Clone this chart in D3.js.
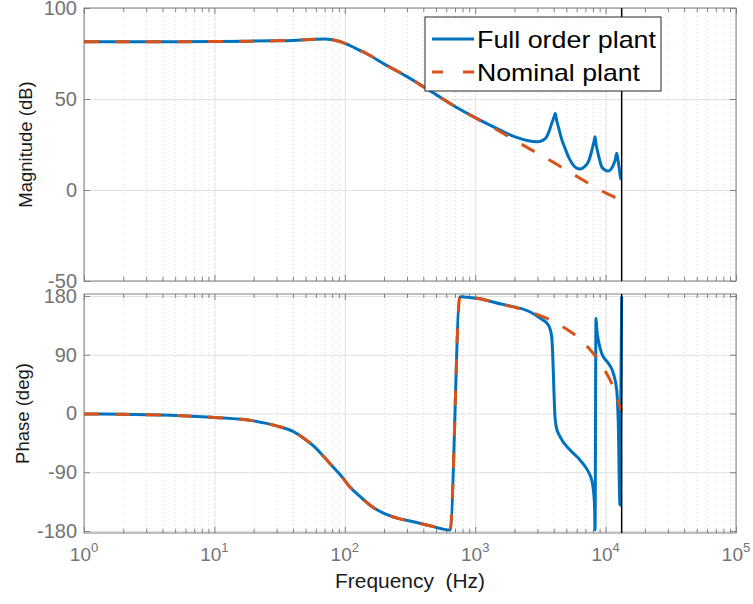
<!DOCTYPE html>
<html lang="en">
<head>
<meta charset="utf-8">
<title>Bode plot</title>
<style>
  body { margin: 0; background: #fff; }
  svg { font-family: "Liberation Sans", Arial, sans-serif; }
  .grid line { stroke: #e0e0e0; stroke-width: 1px; }
  .grid.minor line { stroke: #d6d6d6; stroke-dasharray: 1 3; }
  .grid path { display: none; }
  .ticks path { display: none; }
  .ticks line { stroke: #808080; }
  .ticks text { fill: #737373; font-size: 20px; }
  .frame { fill: none; stroke: #808080; stroke-width: 1px; }
  .label { fill: #1a1a1a; font-size: 18.5px; }
  .full { fill: none; stroke: #0072BD; stroke-width: 3px; }
  .nominal { fill: none; stroke: #D95319; stroke-width: 3px; stroke-dasharray: 15 16; }
</style>
</head>
<body>
<script src="https://d3js.org/d3.v7.min.js"></script>
<script>
  // sampling limit shown as the black vertical line
  const nyquist = 13280;

  // magnitude (dB), nominal plant
  const nomMagFreq = [1, 2, 5, 10, 20, 30, 40, 50, 60, 70, 80, 90, 100, 120, 150, 200, 300, 500, 700,
    1000, 1500, 2000, 3000, 4000, 5000, 7000, 9000, 11000, 13280];
  const nomMagDb = [81.5, 81.5, 81.5, 81.6, 81.8, 82.0, 82.2, 82.5, 82.8, 82.9, 82.5, 81.7, 80.6, 78.0, 74.6, 69.3, 62.3, 52.4, 45.9,
    39.7, 32.7, 27.4, 20.2, 15.1, 10.9, 4.7, 0.1, -3.0, -6.0];

  // magnitude (dB), full order plant
  const fullMagFreq = [1, 2, 5, 10, 20, 30, 40, 50, 60, 70, 80, 90, 100, 120, 150, 200, 300, 500, 700,
    1000, 1500, 2000, 2500, 2966, 3300, 3535, 3700, 3860, 4000, 4113, 4220, 4338, 4600, 4886, 5250, 5654, 6000, 6364,
    6900, 7370, 7700, 7970, 8150, 8300, 8450, 8630, 9000, 9330, 10000, 10490, 11000, 11460, 11850, 12170, 12350,
    12510, 12800, 13060, 13280];
  const fullMagDb = [81.5, 81.5, 81.5, 81.6, 81.8, 82.0, 82.2, 82.5, 82.8, 82.9, 82.5, 81.7, 80.6, 78.0, 74.6, 69.3, 62.3, 52.4, 45.9,
    39.8, 33.5, 29.3, 27.2, 26.5, 27.3, 29.3, 32.5, 36.6, 39.5, 42.1, 38.0, 34.8, 28.0, 22.9, 17.5, 13.7, 12.0, 11.5,
    12.8, 15.5, 19.5, 23.8, 26.8, 29.3, 25.2, 22.0, 16.5, 12.8, 10.8, 10.4, 11.5, 13.7, 16.5, 20.2, 17.8,
    15.5, 10.5, 6.4, 6.0];

  // phase (deg), nominal plant
  const nomPhFreq = [1, 2, 5, 10, 20, 30, 40, 48.7, 60, 69.2, 80, 93, 110, 132, 160, 200, 260, 335, 450, 641,
    764, 1026, 1570, 2666, 4470, 7080, 9720, 11460, 12170, 12880, 13280];
  const nomPhDeg = [-0.6, -1.2, -3.0, -6.0, -11.3, -19.0, -27.5, -38.3, -53.0, -66.4, -80.5, -94.5, -113, -127.7, -142, -153.1, -161, -165.7, -172, -178.4,
    178.9, 176.4, 167.7, 155, 135.5, 104.9, 68.1, 40, 25, 10.4, 4];

  // phase (deg), full order plant
  const fullPhFreq = [1, 2, 5, 10, 20, 30, 40, 48.7, 60, 69.2, 80, 93, 110, 132, 160, 200, 260, 335, 450, 641,
    764, 1026, 1570, 2666, 3140, 3640, 3860, 3920, 3975, 4030, 4090, 4200, 4470, 5333, 6364, 7370, 7820, 8000, 8150,
    8250, 8300, 8440, 8600, 8790, 9330, 10490, 11460, 12170, 12510, 12880, 13280];
  const fullPhDeg = [-0.6, -1.2, -3.0, -6.0, -11.3, -19.0, -27.5, -38.3, -53.0, -66.4, -80.5, -94.5, -113, -127.7, -142, -153.1, -161, -165.7, -172, -178.4,
    178.9, 176.4, 167.7, 155, 146, 135.5, 117.6, 95, 61.6, 25, -4.9, -22, -35.5, -55.9, -71.2, -89.1, -101.8, -112, -127.4,
    -150, -178, 146, 125, 112.6, 92.2, 76.9, 61.6, 36, -15, -140, 179];

  const decades = [1, 10, 100, 1000, 10000, 100000];
  const magTicks = [-50, 0, 50, 100];
  const phaseTicks = [-180, -90, 0, 90, 180];

  const minors = [];
  decades.slice(0, -1).forEach(function(d) {
    for (let k = 2; k <= 9; k++) minors.push(d * k);
  });

  const width = 753, height = 604;
  const left = 84, right = 736;

  const svg = d3.select("body").append("svg")
    .attr("width", width)
    .attr("height", height);

  const x = d3.scaleLog().domain([1, 1e5]).range([left, right]);
  const yMag = d3.scaleLinear().domain([-50, 100]).range([281, 8]);
  const yPh = d3.scaleLinear().domain([-183, 183]).range([533, 294]);

  function zip(f, v) {
    return f.map(function(d, i) { return {f: d, v: v[i]}; });
  }

  function panel(y, yTicks) {
    const top = y.range()[1], bottom = y.range()[0];
    const h = bottom - top, w = right - left;
    const g = svg.append("g");

    // grid
    g.append("g").attr("class", "grid minor")
      .attr("transform", "translate(0," + bottom + ")")
      .call(d3.axisBottom(x).tickValues(minors).tickSize(-h).tickFormat(""));
    g.append("g").attr("class", "grid")
      .attr("transform", "translate(0," + bottom + ")")
      .call(d3.axisBottom(x).tickValues(decades).tickSize(-h).tickFormat(""));
    g.append("g").attr("class", "grid")
      .attr("transform", "translate(" + left + ",0)")
      .call(d3.axisLeft(y).tickValues(yTicks).tickSize(-w).tickFormat(""));

    // inward ticks on all four sides
    [[d3.axisBottom, bottom], [d3.axisTop, top]].forEach(function(a) {
      g.append("g").attr("class", "ticks")
        .attr("transform", "translate(0," + a[1] + ")")
        .call(a[0](x).tickValues(minors).tickSize(-4).tickFormat(""));
      g.append("g").attr("class", "ticks")
        .attr("transform", "translate(0," + a[1] + ")")
        .call(a[0](x).tickValues(decades).tickSize(-6).tickFormat(""));
    });
    g.append("g").attr("class", "ticks")
      .attr("transform", "translate(" + left + ",0)")
      .call(d3.axisLeft(y).tickValues(yTicks).tickSize(-6).tickPadding(7).tickFormat(String));
    g.append("g").attr("class", "ticks")
      .attr("transform", "translate(" + right + ",0)")
      .call(d3.axisRight(y).tickValues(yTicks).tickSize(-6).tickFormat(""));

    g.append("rect").attr("class", "frame")
      .attr("x", left).attr("y", top).attr("width", w).attr("height", h);

    return g;
  }

  const gMag = panel(yMag, magTicks);
  const gPh = panel(yPh, phaseTicks);

  const lineMag = d3.line().x(function(d) { return x(d.f); }).y(function(d) { return yMag(d.v); })
    .curve(d3.curveMonotoneX);
  const linePh = d3.line().x(function(d) { return x(d.f); }).y(function(d) { return yPh(d.v); })
    .curve(d3.curveMonotoneX);

  gMag.append("path").attr("class", "full").attr("d", lineMag(zip(fullMagFreq, fullMagDb)));
  gMag.append("path").attr("class", "nominal").attr("d", lineMag(zip(nomMagFreq, nomMagDb)));
  gPh.append("path").attr("class", "full").attr("d", linePh(zip(fullPhFreq, fullPhDeg)));
  gPh.append("path").attr("class", "nominal").attr("d", linePh(zip(nomPhFreq, nomPhDeg)));

  // black vertical line at the end of the data
  [[gMag, yMag], [gPh, yPh]].forEach(function(p) {
    p[0].append("line")
      .attr("x1", x(nyquist)).attr("x2", x(nyquist))
      .attr("y1", p[1].range()[1]).attr("y2", p[1].range()[0])
      .attr("stroke", "#000").attr("stroke-width", 1.5);
  });

  // x tick labels 10^n under the phase panel
  const xl = svg.append("g").attr("class", "ticks");
  decades.forEach(function(d, i) {
    const t = xl.append("text")
      .attr("x", x(d)).attr("y", 561)
      .attr("text-anchor", "middle")
      .style("font-size", "19px");
    t.append("tspan").text("10");
    t.append("tspan").attr("dy", -9).style("font-size", "13px").text(i);
  });

  // axis labels
  svg.append("text").attr("class", "label")
    .attr("transform", "translate(32," + (yMag(25)) + ") rotate(-90)")
    .attr("text-anchor", "middle")
    .text("Magnitude (dB)");
  svg.append("text").attr("class", "label")
    .attr("transform", "translate(29," + (yPh(0)) + ") rotate(-90)")
    .attr("text-anchor", "middle")
    .text("Phase (deg)");
  svg.append("text").attr("class", "label")
    .attr("x", (left + right) / 2).attr("y", 588)
    .attr("text-anchor", "middle")
    .style("white-space", "pre")
    .style("font-size", "20px")
    .attr("textLength", 150)
    .attr("lengthAdjust", "spacingAndGlyphs")
    .text("Frequency  (Hz)");

  // legend
  const lg = svg.append("g");
  lg.append("rect").attr("x", 425).attr("y", 17).attr("width", 236).attr("height", 74)
    .attr("fill", "#fff").attr("stroke", "#262626").attr("stroke-width", 1);
  lg.append("line").attr("class", "full").attr("x1", 432).attr("x2", 474).attr("y1", 39).attr("y2", 39);
  lg.append("line").attr("class", "nominal").attr("x1", 432).attr("x2", 474).attr("y1", 72).attr("y2", 72)
    .style("stroke-dasharray", "11 20");
  lg.append("text").attr("x", 477).attr("y", 48).style("font-size", "24px").attr("fill", "#000")
    .attr("textLength", 179).attr("lengthAdjust", "spacingAndGlyphs").text("Full order plant");
  lg.append("text").attr("x", 477).attr("y", 81).style("font-size", "24px").attr("fill", "#000")
    .attr("textLength", 163).attr("lengthAdjust", "spacingAndGlyphs").text("Nominal plant");
</script>
</body>
</html>
